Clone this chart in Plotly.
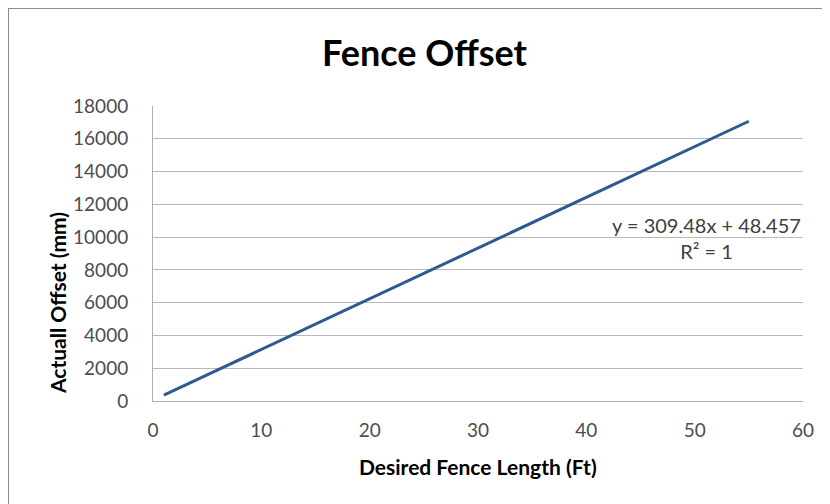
import plotly.graph_objects as go

# Data
fence_length_ft = [1, 5, 10, 15, 20, 25, 30, 35, 40, 45, 50, 55]
offset_mm = [358, 1596, 3143, 4690, 6238, 7785, 9333, 10880, 12428, 13975, 15522, 17069]

x_ticks = [0, 10, 20, 30, 40, 50, 60]
y_ticks = [0, 2000, 4000, 6000, 8000, 10000, 12000, 14000, 16000, 18000]

title_text = "Fence Offset"
x_title = "Desired Fence Length (Ft)"
y_title = "Actuall Offset (mm)"
trend_text = "y = 309.48x + 48.457<br>R² = 1"

OFF = 8  # page body margin
W, H = 830 - OFF, 504 - OFF
# plot area in screen px
L, R, T, B = 153, 803, 106, 401
pw, ph = R - L, B - T

def px(xs):
    return (xs - L) / pw

def py(ys):
    return (B - ys) / ph

FONT = "Lato, 'Open Sans', sans-serif"
TICK_COLOR = "#4d4d4d"

fig = go.Figure()
fig.add_trace(go.Scatter(
    x=fence_length_ft, y=offset_mm, mode="lines",
    line=dict(color="#2d5b91", width=3), showlegend=False, hoverinfo="x+y"))

fig.update_layout(
    width=W, height=H,
    margin=dict(l=L - OFF, r=830 - R, t=T - OFF, b=504 - B, pad=0, autoexpand=False),
    paper_bgcolor="white", plot_bgcolor="white",
    font=dict(family=FONT, color=TICK_COLOR, size=19),
    xaxis=dict(range=[0, 60], tickvals=x_ticks, showgrid=False, zeroline=False,
               showline=True, linecolor="#b0b0b0", linewidth=1,
               ticks="", ticklabelstandoff=12, tickformat="d", automargin=False,
               tickfont=dict(family=FONT, size=19, color=TICK_COLOR)),
    yaxis=dict(range=[0, 18000], tickvals=y_ticks, showgrid=True, gridcolor="#b8b8b8",
               gridwidth=1, zeroline=False, showline=True, linecolor="#b0b0b0",
               linewidth=1, ticks="", ticklabelstandoff=20, tickformat="d", automargin=False,
               tickfont=dict(family=FONT, size=19, color=TICK_COLOR)),
    shapes=[dict(type="rect", xref="paper", yref="paper",
                 x0=px(OFF), x1=px(900), y0=py(600), y1=py(OFF),
                 line=dict(color="#8c8c8c", width=2), layer="below")],
    annotations=[
        dict(text="<b>" + title_text + "</b>", xref="paper", yref="paper",
             x=px(425), y=py(52), showarrow=False, xanchor="center", yanchor="middle",
             font=dict(family=FONT, size=36, color="black")),
        dict(text="<b>" + x_title + "</b>", xref="paper", yref="paper",
             x=px(478), y=py(466), showarrow=False, xanchor="center", yanchor="middle",
             font=dict(family=FONT, size=21, color="black")),
        dict(text="<b>" + y_title + "</b>", xref="paper", yref="paper",
             x=px(57), y=py(303), showarrow=False, xanchor="center", yanchor="middle",
             textangle=-90, font=dict(family=FONT, size=21, color="black")),
        dict(text=trend_text, xref="paper", yref="paper",
             x=px(706), y=py(238), showarrow=False, xanchor="center", yanchor="middle",
             align="center", bgcolor="rgba(0,0,0,0)",
             font=dict(family=FONT, size=20, color="#404040")),
    ],
)

fig.write_html("out.html")
